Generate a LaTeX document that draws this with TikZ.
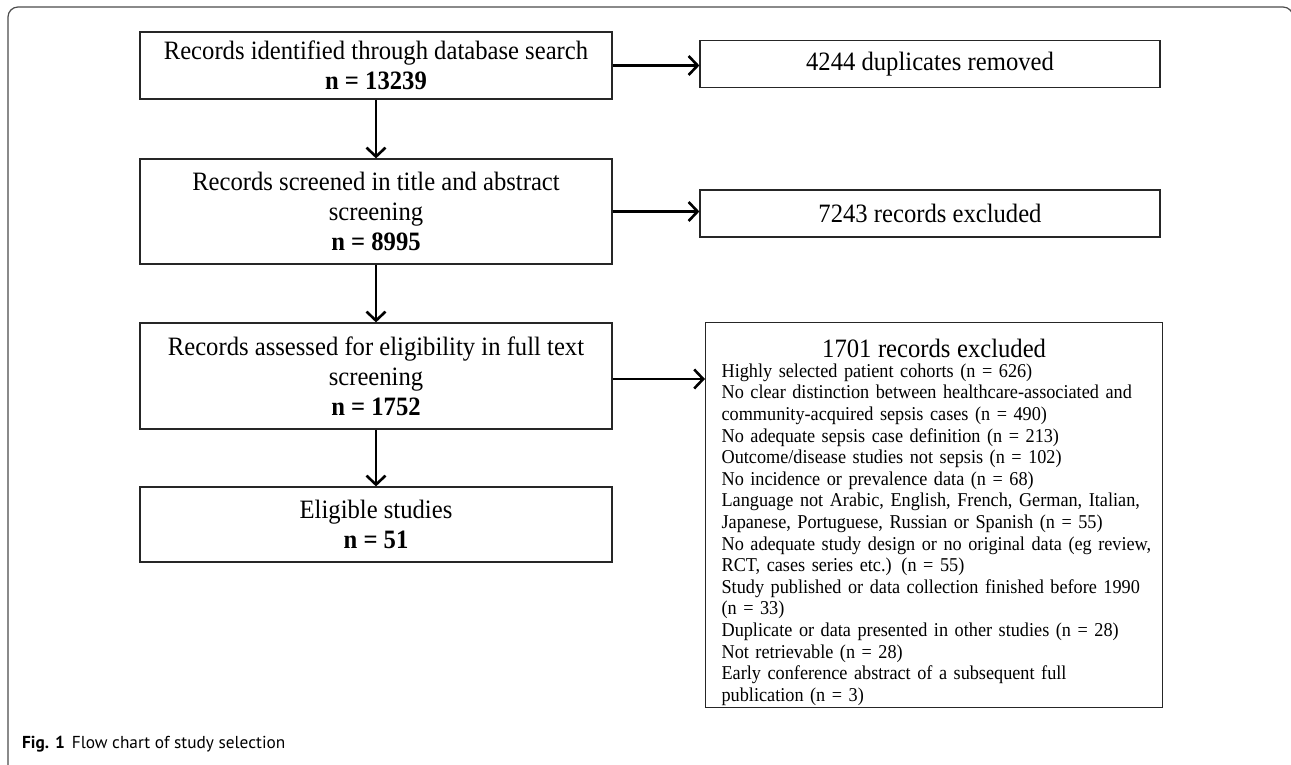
\documentclass[tikz,border=0pt]{standalone}
\usepackage{fontspec}
\setmainfont{Liberation Serif}[FakeStretch=0.93]
\newfontfamily\capfont{PT Sans}
\usetikzlibrary{arrows.meta}
\newcommand{\exline}[1]{\mbox{#1}}
\begin{document}
\begin{tikzpicture}[x=1pt,y=-1pt,
  box/.style={draw=black!85, line width=1.2pt, align=center, inner sep=0pt, font=\fontsize{26.5}{30}\selectfont},
  arr/.style={line width=2.6pt, -{Straight Barb[length=9pt,width=19pt]}}]
\useasboundingbox (0,0) rectangle (1291,765);
\draw[line width=1.2pt, black!70, rounded corners=10pt] (8,766) -- (8,7) -- (1293,7) -- (1293,40);
\node[box, minimum width=472pt, minimum height=67pt] (b1) at (376,65.5) {Records identified through database search\\\textbf{n = 13239}};
\node[box, minimum width=472pt, minimum height=105pt] (b2) at (376,211.5) {Records screened in title and abstract\\screening\\\textbf{n = 8995}};
\node[box, minimum width=472pt, minimum height=106pt] (b3) at (376,376) {Records assessed for eligibility in full text\\screening\\\textbf{n = 1752}};
\node[box, minimum width=472pt, minimum height=75pt] (b4) at (376,524.5) {Eligible studies\\\textbf{n = 51}};
\node[box, minimum width=460pt, minimum height=47pt] (d1) at (930,64) {4244 duplicates removed};
\node[box, minimum width=460pt, minimum height=47pt] (d2) at (930,213.5) {7243 records excluded};
\node[box, anchor=north west, align=left, text width=425pt, inner xsep=16pt, inner ysep=0pt, minimum width=457pt, font=\fontsize{19.6}{21.6}\selectfont] (d3) at (705,322) {%
\makebox[\linewidth][c]{\rule{0pt}{35pt}\fontsize{26.5}{26.5}\selectfont 1701 records excluded}\\[-2pt]
\exline{Highly selected patient cohorts (n = 626)}\\
\exline{No clear distinction between healthcare-associated and}\\
\exline{community-acquired sepsis cases (n = 490)}\\
\exline{No adequate sepsis case definition (n = 213)}\\
\exline{Outcome/disease studies not sepsis (n = 102)}\\
\exline{No incidence or prevalence data (n = 68)}\\
\exline{Language not Arabic, English, French, German, Italian,}\\
\exline{Japanese, Portuguese, Russian or Spanish (n = 55)}\\
\exline{No adequate study design or no original data (eg review,}\\
\exline{RCT, cases series etc.) (n = 55)}\\
\exline{Study published or data collection finished before 1990}\\
\exline{(n = 33)}\\
\exline{Duplicate or data presented in other studies (n = 28)}\\
\exline{Not retrievable (n = 28)}\\
\exline{Early conference abstract of a subsequent full}\\
\exline{publication (n = 3)\rule[-6pt]{0pt}{6pt}}};
\draw[arr] (b1) -- (b2);
\draw[arr] (b2) -- (b3);
\draw[arr] (b3) -- (b4);
\draw[arr] (b1.east) -- (b1.east -| d1.west);
\draw[arr] (b2.east) -- (b2.east -| d2.west);
\draw[arr] ([yshift=-3pt]b3.east) -- ([yshift=-3pt]b3.east -| d3.west);
\node[anchor=base west, inner sep=0pt, font=\capfont\fontsize{17.3}{20}\selectfont] (cap) at (22,748) {\textbf{Fig. 1}\hspace{7pt}Flow chart of study selection};
\end{tikzpicture}
\end{document}
